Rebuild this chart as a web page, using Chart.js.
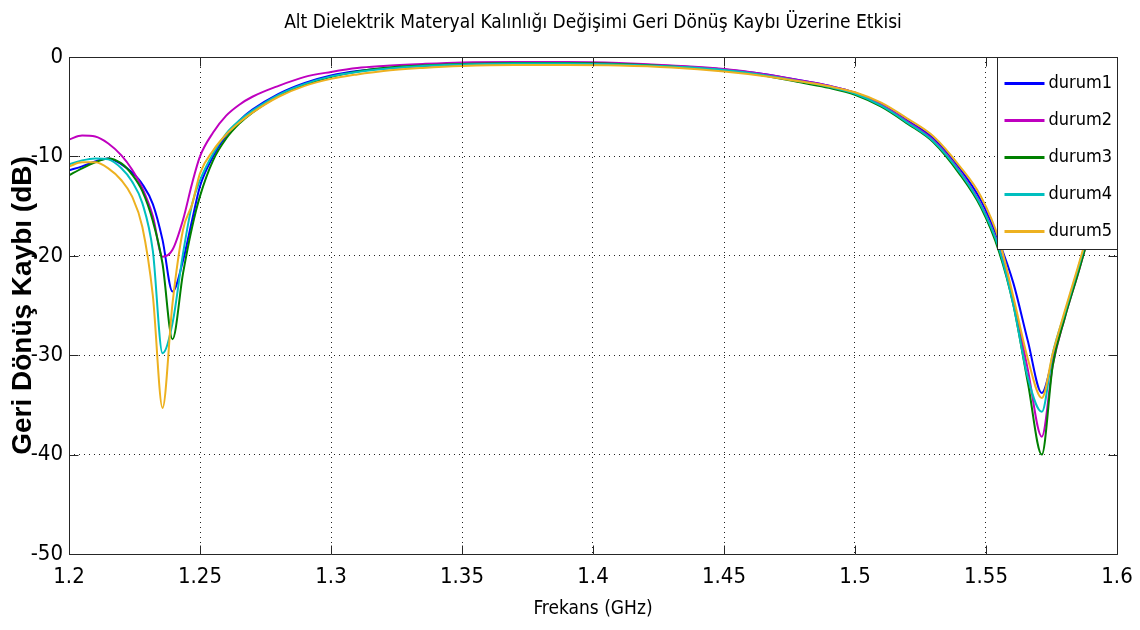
<!DOCTYPE html>
<html>
<head>
<meta charset="utf-8">
<script src="https://cdn.jsdelivr.net/npm/chart.js@4.4.1/dist/chart.umd.min.js"></script>
<style>
html, body { margin: 0; padding: 0; background: #fff; }
#wrap { width: 1140px; height: 630px; position: relative; }
</style>
</head>
<body>
<div id="wrap"><canvas id="c"></canvas></div>
<script>
const titleText = 'Alt Dielektrik Materyal Kalınlığı Değişimi Geri Dönüş Kaybı Üzerine Etkisi';
const xAxisTitle = 'Frekans (GHz)';
const yAxisTitle = 'Geri Dönüş Kaybı (dB)';

const freq = [1.2, 1.205, 1.21, 1.215, 1.22, 1.224, 1.228, 1.232, 1.2357, 1.2395, 1.2435, 1.247, 1.25, 1.255, 1.26, 1.265, 1.27, 1.28, 1.29, 1.30, 1.31, 1.32, 1.335, 1.35, 1.37, 1.39, 1.41, 1.43, 1.45, 1.465, 1.48, 1.49, 1.50, 1.51, 1.52, 1.53, 1.54, 1.548, 1.555, 1.5605, 1.566, 1.5713, 1.5755, 1.58, 1.585, 1.59, 1.595, 1.6];

const durum1 = [-11.4, -11.0, -10.5, -10.2, -10.8, -11.6, -12.8, -14.8, -18.4, -23.6, -20.5, -16.4, -13.0, -10.0, -7.9, -6.4, -5.3, -3.7, -2.6, -1.85, -1.4, -1.15, -0.9, -0.75, -0.65, -0.65, -0.7, -0.9, -1.25, -1.7, -2.4, -2.9, -3.6, -4.8, -6.4, -8.2, -11.2, -14.4, -18.6, -22.8, -28.6, -33.8, -30.3, -26.0, -21.6, -17.2, -13.8, -11.0];
const durum2 = [-8.3, -7.9, -8.0, -8.7, -9.9, -11.3, -13.2, -16.0, -20.1, -19.4, -16.4, -12.7, -10.0, -7.6, -5.9, -4.8, -4.0, -2.9, -2.0, -1.5, -1.1, -0.9, -0.7, -0.55, -0.5, -0.5, -0.6, -0.85, -1.2, -1.7, -2.4, -2.9, -3.6, -4.8, -6.5, -8.4, -11.5, -14.8, -19.2, -24.5, -31.5, -38.2, -31.0, -26.3, -21.9, -17.4, -14.0, -11.2];
const durum3 = [-11.9, -11.2, -10.6, -10.2, -10.7, -11.8, -13.5, -16.5, -20.8, -28.4, -21.8, -17.1, -14.0, -10.4, -8.2, -6.7, -5.6, -3.9, -2.8, -2.0, -1.45, -1.1, -0.85, -0.7, -0.6, -0.6, -0.7, -0.95, -1.35, -1.85, -2.6, -3.1, -3.8, -5.0, -6.7, -8.6, -11.8, -15.1, -19.6, -25.0, -32.8, -40.0, -31.0, -26.3, -21.9, -17.4, -14.0, -11.2];
const durum4 = [-10.8, -10.4, -10.2, -10.3, -11.2, -12.5, -14.7, -19.5, -29.8, -26.8, -19.8, -14.8, -12.4, -9.7, -7.7, -6.4, -5.4, -3.8, -2.7, -1.95, -1.5, -1.2, -0.9, -0.75, -0.65, -0.65, -0.75, -0.95, -1.3, -1.8, -2.5, -3.0, -3.7, -4.9, -6.6, -8.5, -11.6, -14.9, -19.3, -25.0, -32.3, -35.7, -29.8, -25.8, -21.4, -17.0, -13.6, -10.8];
const durum5 = [-11.0, -10.6, -10.6, -11.2, -12.4, -14.0, -17.1, -24.0, -35.3, -24.8, -17.4, -14.8, -11.7, -9.4, -7.8, -6.6, -5.6, -4.0, -2.9, -2.2, -1.75, -1.4, -1.1, -0.9, -0.8, -0.8, -0.85, -1.05, -1.45, -1.9, -2.5, -2.95, -3.55, -4.6, -6.2, -8.0, -11.0, -14.0, -18.4, -24.2, -30.4, -34.3, -29.8, -25.6, -21.2, -16.8, -13.4, -10.6];

const seriesNames = ['durum1', 'durum2', 'durum3', 'durum4', 'durum5'];
const seriesColors = ['#0000FF', '#BF00BF', '#008000', '#00BFBF', '#EDB120'];
const xTickLabels = ['1.2', '1.25', '1.3', '1.35', '1.4', '1.45', '1.5', '1.55', '1.6'];
const yTickLabels = ['-50', '-40', '-30', '-20', '-10', '0'];

const NARROW = "'Liberation Sans Narrow', 'Arial Narrow', 'DejaVu Sans Condensed', 'Liberation Sans', Arial, sans-serif";
const WIDE = "'Liberation Sans', Arial, sans-serif";

const seriesValues = [durum1, durum2, durum3, durum4, durum5];

const matlabFrame = {
  id: 'matlabFrame',
  afterDatasetsDraw(chart) {
    const ctx = chart.ctx;
    const ca = chart.chartArea;
    const xs = chart.scales.x, ys = chart.scales.y;
    ctx.save();
    ctx.strokeStyle = '#262626';
    ctx.lineWidth = 1;
    const L = Math.round(ca.left) + 0.5, R = Math.round(ca.right) + 0.5;
    const T = Math.round(ca.top) + 0.5, B = Math.round(ca.bottom) + 0.5;
    ctx.beginPath();
    ctx.rect(L, T, R - L, B - T);
    ctx.stroke();
    const tl = 9;
    ctx.beginPath();
    xs.ticks.forEach(t => {
      const px = Math.round(xs.getPixelForValue(t.value)) + 0.5;
      ctx.moveTo(px, B); ctx.lineTo(px, B - tl);
      ctx.moveTo(px, T); ctx.lineTo(px, T + tl);
    });
    ys.ticks.forEach(t => {
      const py = Math.round(ys.getPixelForValue(t.value)) + 0.5;
      ctx.moveTo(L, py); ctx.lineTo(L + tl, py);
      ctx.moveTo(R, py); ctx.lineTo(R - tl, py);
    });
    ctx.stroke();

    // legend box (drawn above the curves, as in the reference)
    const lw = 120, lh = 192;
    const lx = Math.round(ca.right) - lw + 0.5, ly = T;
    ctx.fillStyle = '#ffffff';
    ctx.fillRect(lx, ly, lw, lh);
    ctx.strokeStyle = '#262626';
    ctx.lineWidth = 1;
    ctx.strokeRect(lx, ly, lw, lh);
    ctx.font = '18px ' + NARROW;
    ctx.textBaseline = 'middle';
    ctx.textAlign = 'left';
    chart.data.datasets.forEach((ds, i) => {
      const cy = ly + 26 + i * 37;
      ctx.strokeStyle = ds.borderColor;
      ctx.lineWidth = 3;
      ctx.beginPath();
      ctx.moveTo(lx + 7, cy); ctx.lineTo(lx + 47, cy);
      ctx.stroke();
      ctx.fillStyle = '#000';
      ctx.fillText(ds.label, lx + 51, cy);
    });
    ctx.restore();
  }
};

new Chart(document.getElementById('c'), {
  type: 'line',
  data: {
    datasets: seriesValues.map((vals, k) => ({
      label: seriesNames[k],
      data: freq.map((f, i) => ({ x: f, y: vals[i] })),
      borderColor: seriesColors[k],
      backgroundColor: seriesColors[k],
      borderWidth: 2,
      pointRadius: 0,
      fill: false,
      cubicInterpolationMode: 'monotone',
      order: seriesValues.length - k
    }))
  },
  options: {
    responsive: true,
    maintainAspectRatio: false,
    animation: false,
    layout: { padding: { left: 0, right: 23, top: 0, bottom: 0 } },
    plugins: {
      legend: { display: false },
      tooltip: { enabled: false },
      title: {
        display: true,
        text: titleText,
        fullSize: false,
        color: '#000',
        font: { family: NARROW, size: 19, weight: 'normal', lineHeight: 1.2 },
        padding: { top: 12, bottom: 22.2 }
      }
    },
    scales: {
      x: {
        type: 'linear',
        min: 1.2,
        max: 1.6,
        afterFit: s => { s.height = 76; s.paddingLeft = 14; s.paddingRight = 14; },
        ticks: {
          stepSize: 0.05,
          autoSkip: false,
          maxRotation: 0,
          color: '#000',
          padding: 10,
          font: { family: NARROW, size: 22 },
          callback: (v, i) => xTickLabels[i]
        },
        grid: { color: '#222', lineWidth: 1, drawTicks: false },
        border: { display: false, dash: [1, 4] },
        title: {
          display: true,
          text: xAxisTitle,
          color: '#000',
          font: { family: NARROW, size: 19 },
          padding: { top: 0, bottom: 9.6 }
        }
      },
      y: {
        type: 'linear',
        min: -50,
        max: 0,
        afterFit: s => { s.width = 69; },
        ticks: {
          stepSize: 10,
          color: '#000',
          padding: 6,
          font: { family: NARROW, size: 22 },
          callback: (v, i) => yTickLabels[i]
        },
        grid: { color: '#222', lineWidth: 1, drawTicks: false },
        border: { display: false, dash: [1, 4] },
        title: {
          display: true,
          text: yAxisTitle,
          color: '#000',
          font: { family: WIDE, size: 28, weight: 'bold' },
          padding: { top: 6, bottom: 0 }
        }
      }
    }
  },
  plugins: [matlabFrame]
});
</script>
</body>
</html>
